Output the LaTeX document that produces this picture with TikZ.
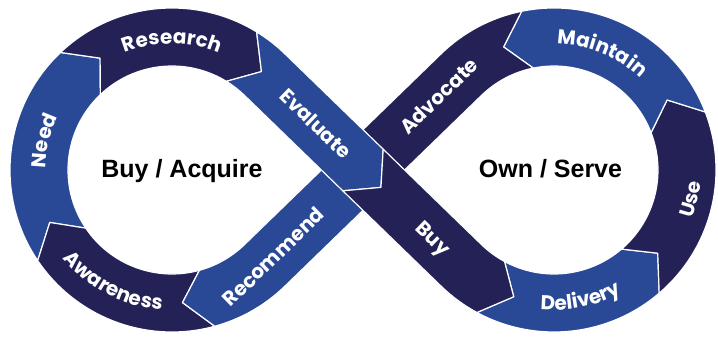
\documentclass[tikz,border=0pt]{standalone}
\usepackage{fontspec}
\setmainfont{Liberation Sans}
\newfontfamily\bandfont{Poppins}
\usetikzlibrary{calc,decorations.text}
\definecolor{navy}{RGB}{35,33,86}
\definecolor{royal}{RGB}{41,72,150}
\newcommand{\arcband}[6]{%
  \path[#6] ($(#1)+(#2:162)$) arc[start angle=#2,end angle=#3,radius=162pt]
    -- ($(#1)+(#5:133)$) -- ($(#1)+(#3:104)$)
    arc[start angle=#3,end angle=#2,radius=104pt]
    -- ($(#1)+(#4:133)$) -- cycle;}

\begin{document}
\begin{tikzpicture}[x=1pt,y=1pt,
    band/.style={draw=white,line width=1.2pt,line join=round},
    darkband/.style={band,fill=navy},
    blueband/.style={band,fill=royal},
    bandlabel/.style={text=white,inner sep=0pt,text height=14pt,text depth=0pt,
      font=\bandfont\bfseries\fontsize{20}{24}\selectfont},
    arclabel/.style={decorate,decoration={text along path,text align=center,
      text color=white,text={|\bandfont\bfseries\fontsize{20}{24}\selectfont|#1}}},
    loopname/.style={inner sep=0pt,text height=18pt,text depth=0pt,
      font=\bfseries\fontsize{25}{30}\selectfont}]
  \useasboundingbox (-363,-167) rectangle (355,170);
  \coordinate (L) at (-191,0);
  \coordinate (R) at (191,0);

  \arcband{L}{214}{133.5}{203.23}{122.73}{blueband}
  \arcband{L}{133.5}{58.5}{122.73}{47.73}{darkband}
  \arcband{L}{285.3}{214}{274.53}{203.23}{darkband}
  \arcband{R}{241.6}{310.5}{252.37}{321.27}{blueband}
  \arcband{R}{310.5}{381}{321.27}{391.77}{darkband}
  \arcband{R}{21}{101.5}{31.77}{112.27}{blueband}

  \path[darkband] ($(R)+(101.5:162)$) arc[start angle=101.5,end angle=134.13,radius=162pt]
    -- (134.13:29) -- (224.13:25) -- (-45.87:29)
    -- ($(R)+(134.13:104)$) arc[start angle=134.13,end angle=101.5,radius=104pt]
    -- ($(R)+(112.27:133)$) -- cycle;
  \path[blueband] (134.13:29) -- ($(L)+(314.13:104)$)
    arc[start angle=314.13,end angle=285.3,radius=104pt]
    -- ($(L)+(274.53:133)$) -- ($(L)+(285.3:162)$)
    arc[start angle=285.3,end angle=314.13,radius=162pt]
    -- (-45.87:29) -- (224.13:25) -- cycle;
  \path[blueband] ($(L)+(58.5:162)$) arc[start angle=58.5,end angle=45.87,radius=162pt]
    -- (45.87:29) -- (-44.13:25) -- (225.87:29)
    -- ($(L)+(45.87:104)$) arc[start angle=45.87,end angle=58.5,radius=104pt]
    -- ($(L)+(47.73:133)$) -- cycle;
  \path[darkband] (45.87:29) -- ($(R)+(225.87:104)$)
    arc[start angle=225.87,end angle=241.6,radius=104pt]
    -- ($(R)+(252.37:133)$) -- ($(R)+(241.6:162)$)
    arc[start angle=241.6,end angle=225.87,radius=162pt]
    -- (225.87:29) -- (-44.13:25) -- cycle;

  \path[arclabel=Need] ($(L)+(207:126)$) arc[start angle=207,end angle=127,radius=126pt];
  \path[arclabel=Research] ($(L)+(130:126)$) arc[start angle=130,end angle=50,radius=126pt];
  \path[arclabel=Awareness] ($(L)+(202.4:140)$) arc[start angle=202.4,end angle=282.4,radius=140pt];
  \path[arclabel=Delivery] ($(R)+(241.7:140)$) arc[start angle=241.7,end angle=321.7,radius=140pt];
  \path[arclabel=Use] ($(R)+(308:147)$) arc[start angle=308,end angle=388,radius=147pt];
  \path[arclabel=Maintain] ($(R)+(107.7:126)$) arc[start angle=107.7,end angle=27.7,radius=126pt];

  \node[bandlabel,rotate=-44.13] (evaluate) at (135.87:66) {Evaluate};
  \node[bandlabel,rotate=-44.13] (buy) at (-44.13:98) {Buy};
  \node[bandlabel,rotate=44.13] (advocate) at (44.13:106) {Advocate};
  \node[bandlabel,rotate=44.13] (recommend) at (224.13:125) {Recommend};

  \node[loopname] (acquire) at (-181,1) {Buy / Acquire};
  \node[loopname] (serve) at (187.5,1) {Own / Serve};
\end{tikzpicture}
\end{document}
